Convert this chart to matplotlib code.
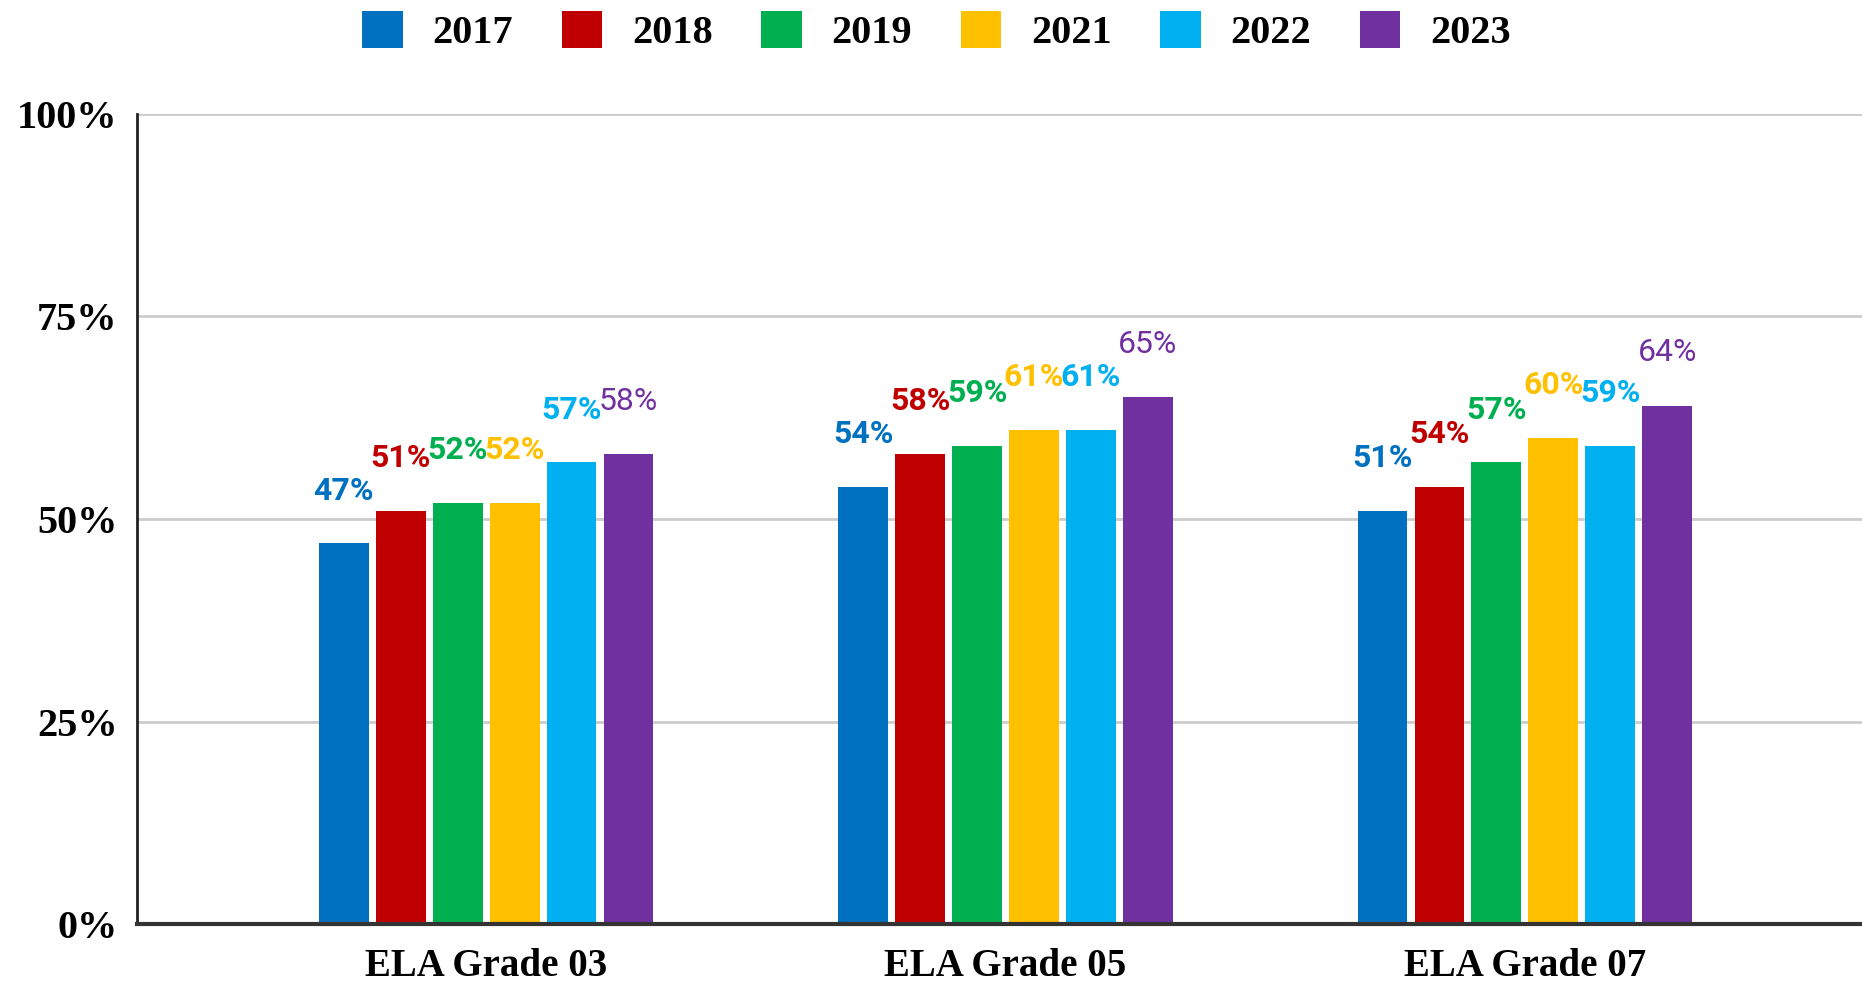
import matplotlib
matplotlib.use("Agg")
import matplotlib.pyplot as plt
import numpy as np

categories = ["ELA Grade 03", "ELA Grade 05", "ELA Grade 07"]
years = ["2017", "2018", "2019", "2021", "2022", "2023"]
colors = ["#0070C0", "#C00000", "#00B050", "#FFC000", "#00B0F0", "#7030A0"]

v2017 = [47, 54, 51]
v2018 = [51, 58, 54]
v2019 = [52, 59, 57]
v2021 = [52, 61, 60]
v2022 = [57, 61, 59]
v2023 = [58, 65, 64]
series = [v2017, v2018, v2019, v2021, v2022, v2023]

yticks = [0, 25, 50, 75, 100]
ytick_labels = ["0%", "25%", "50%", "75%", "100%"]

fig = plt.figure(figsize=(18.62, 9.85), dpi=100)
ax = fig.add_axes([0.0736, 0.0619, 0.9264, 0.8224])

x = np.arange(len(categories))
step = 0.1097
width = 0.096

for i, (yr, vals, c) in enumerate(zip(years, series, colors)):
    pos = x + (i - 2.5) * step
    ax.bar(pos, vals, width=width, color=c, label=yr, zorder=3)
    weight = "normal" if yr == "2023" else "bold"
    for px, v in zip(pos, vals):
        ax.annotate(f"{v}%", (px, v), xytext=(0, 38), textcoords="offset points",
                    ha="center", va="center", color=c, fontsize=23,
                    fontfamily="Roboto", fontweight=weight)

ax.set_xlim(-0.672, 2.649)
ax.set_ylim(0, 100)
ax.set_yticks(yticks)
ax.set_yticklabels(ytick_labels, fontfamily="Liberation Serif", fontweight="bold", fontsize=29)
ax.set_xticks(x)
ax.set_xticklabels(categories, fontfamily="Liberation Serif", fontweight="bold", fontsize=28)
ax.tick_params(axis="y", length=0, pad=14)
ax.tick_params(axis="x", length=0, pad=17)

ax.yaxis.grid(True, color="#cccccc", linewidth=2, zorder=0)
ax.set_axisbelow(True)
for s in ["top", "right"]:
    ax.spines[s].set_visible(False)
ax.spines["left"].set_linewidth(2)
ax.spines["left"].set_color("#222222")
ax.spines["bottom"].set_linewidth(3)
ax.spines["bottom"].set_color("#333333")
ax.spines["bottom"].set_zorder(4)

fig.legend(loc="upper center", bbox_to_anchor=(0.503, 1.026), ncol=6, frameon=False,
           prop={"family": "Liberation Serif", "weight": "bold", "size": 29},
           handlelength=1.0, handleheight=1.05, handletextpad=0.75, columnspacing=1.2)

fig.savefig("out.png", dpi=100)
